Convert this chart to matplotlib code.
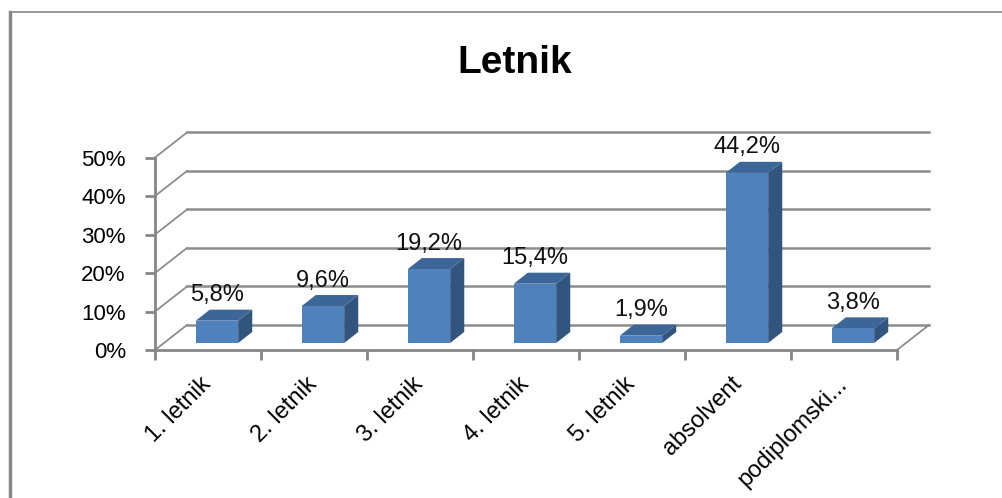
import matplotlib
matplotlib.use("Agg")
import matplotlib.pyplot as plt
from matplotlib.patches import Polygon
from matplotlib.lines import Line2D

plt.rcParams['font.family'] = ['Liberation Sans', 'DejaVu Sans']

categories = ["1. letnik", "2. letnik", "3. letnik", "4. letnik", "5. letnik", "absolvent", "podiplomski..."]
values = [5.8, 9.6, 19.2, 15.4, 1.9, 44.2, 3.8]
labels = ["5,8%", "9,6%", "19,2%", "15,4%", "1,9%", "44,2%", "3,8%"]
yticks = [0, 10, 20, 30, 40, 50]

# depth of the fake 3d box, in data units
OX = 0.302
OY = 6.5
Z0, Z1 = 0.28, 0.72
grid_col = "#8c8c8c"

def proj(x, y, z):
    return (x + z * OX, y + z * OY)

fig = plt.figure(figsize=(10.03, 4.98), dpi=100)
ax = fig.add_axes([155 / 1003, 148 / 498, 742 / 1003, 192.5 / 498])
ax.set_xlim(0, 7)
ax.set_ylim(0, 50)

# walls and gridlines
for v in yticks:
    ax.add_line(Line2D([OX, 7 + OX], [v + OY, v + OY], color=grid_col, lw=1.8, clip_on=False, zorder=1))
    ax.add_line(Line2D([0, OX], [v, v + OY], color=grid_col, lw=1.3, clip_on=False, zorder=1))
ax.add_line(Line2D([7, 7 + OX], [0, OY], color=grid_col, lw=1.3, clip_on=False, zorder=1))

# bars
for i, v in enumerate(values):
    x0, x1 = i + 0.3, i + 0.7
    front = [proj(x0, 0, Z0), proj(x1, 0, Z0), proj(x1, v, Z0), proj(x0, v, Z0)]
    side = [proj(x1, 0, Z0), proj(x1, 0, Z1), proj(x1, v, Z1), proj(x1, v, Z0)]
    top = [proj(x0, v, Z0), proj(x1, v, Z0), proj(x1, v, Z1), proj(x0, v, Z1)]
    ax.add_patch(Polygon(side, closed=True, fc="#32557f", ec="none", clip_on=False, zorder=3))
    ax.add_patch(Polygon(top, closed=True, fc="#3c6598", ec="none", clip_on=False, zorder=3))
    ax.add_patch(Polygon(front, closed=True, fc="#4f81bd", ec="none", clip_on=False, zorder=4))
    lx, ly = proj(i + 0.5, v, Z1)
    ax.annotate(labels[i], (proj(i + 0.5, v, Z0)[0], ly), xytext=(0, 6), textcoords="offset points",
                ha="center", va="baseline", fontsize=17, color="#111111", zorder=5)

# axes
for s in ["top", "right"]:
    ax.spines[s].set_visible(False)
for s in ["left", "bottom"]:
    ax.spines[s].set_color("#868686")
    ax.spines[s].set_linewidth(2)
    ax.spines[s].set_zorder(2)
ax.set_yticks(yticks)
ax.set_yticklabels([f"{t}%" for t in yticks], fontsize=16)
ax.set_xticks(range(8))
ax.set_xticklabels([])
ax.set_xticks([i + 0.5 for i in range(7)], minor=True)
ax.set_xticklabels(categories, minor=True, rotation=45, ha="right", va="center",
                   rotation_mode="anchor", fontsize=17)
ax.tick_params(axis="both", which="major", color="#868686", width=2, length=7)
ax.tick_params(axis="x", which="minor", length=0, pad=22)
ax.tick_params(axis="y", pad=14)
ax.patch.set_visible(False)

fig.text(0.513, 1 - 73 / 498, "Letnik", ha="center", va="baseline", fontsize=28, fontweight="bold")

# chart area border
fig.add_artist(Line2D([10 / 1003, 10 / 1003], [1 - 12 / 498, 0], color="#878787", lw=2.5))
fig.add_artist(Line2D([10 / 1003, 1.0], [1 - 12 / 498, 1 - 12 / 498], color="#878787", lw=1.2))

fig.savefig("out.png", dpi=100)
